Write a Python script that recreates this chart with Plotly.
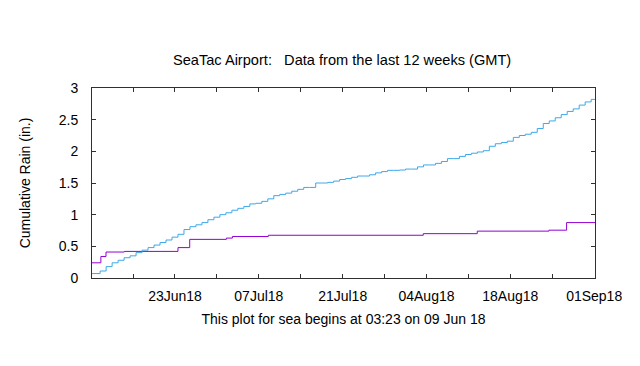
import pandas as pd
import plotly.graph_objects as go

# ---- data ----
period_start = "2018-06-09 03:23"
period_end = "2018-09-01 03:23"

# daily cumulative "normal" rainfall (blue): initial value then one step per day
normal_first_step = "2018-06-10 12:00"
normal_vals = [
    0.07,
    0.11, 0.18, 0.24, 0.28, 0.32, 0.35, 0.40, 0.44, 0.48, 0.52,
    0.56, 0.60, 0.645, 0.69, 0.765, 0.81, 0.84, 0.875, 0.92, 0.96,
    1.00, 1.03, 1.07, 1.10, 1.13, 1.17, 1.18, 1.21, 1.25, 1.30,
    1.32, 1.34, 1.37, 1.40, 1.43, 1.43, 1.50, 1.50, 1.51, 1.53,
    1.555, 1.57, 1.59, 1.61, 1.61, 1.63, 1.66, 1.68, 1.70, 1.70,
    1.705, 1.72, 1.72, 1.755, 1.785, 1.785, 1.81, 1.84, 1.885, 1.885,
    1.92, 1.95, 1.97, 1.99, 2.01, 2.08, 2.12, 2.14, 2.16, 2.22,
    2.25, 2.27, 2.30, 2.36, 2.44, 2.48, 2.53, 2.58, 2.63, 2.67,
    2.73, 2.78, 2.82,
]

# observed cumulative rainfall (purple)
obs_dates = [
    "2018-06-09 03:23", "2018-06-10 15:00", "2018-06-11 11:30", "2018-06-14 13:00",
    "2018-06-23 12:00", "2018-06-25 11:00", "2018-07-01 14:00", "2018-07-02 14:00",
    "2018-07-08 14:00", "2018-08-03 11:00", "2018-08-12 11:30", "2018-08-24 10:30",
    "2018-08-27 09:30", "2018-09-01 03:23",
]
obs_vals = [
    0.24, 0.34, 0.41, 0.42,
    0.48, 0.61, 0.63, 0.655,
    0.675, 0.70, 0.74, 0.755,
    0.875, 0.875,
]

x_tick_vals = ["2018-06-16", "2018-06-23", "2018-06-30", "2018-07-07", "2018-07-14",
               "2018-07-21", "2018-07-28", "2018-08-04", "2018-08-11", "2018-08-18",
               "2018-08-25", "2018-09-01"]
x_tick_text = ["", "23Jun18", "", "07Jul18", "", "21Jul18", "", "04Aug18", "",
               "18Aug18", "", "01Sep18"]
y_tick_vals = [0, 0.5, 1, 1.5, 2, 2.5, 3]
y_tick_text = ["0", "0.5", "1", "1.5", "2", "2.5", "3"]

# ---- build ----
normal_dates = [pd.Timestamp(period_start)] + list(
    pd.date_range(normal_first_step, periods=len(normal_vals) - 1, freq="D")
) + [pd.Timestamp(period_end)]
normal_y = normal_vals + [normal_vals[-1]]

FONT = "Liberation Sans, Arial, sans-serif"

fig = go.Figure()
fig.add_trace(go.Scatter(x=pd.to_datetime(obs_dates), y=obs_vals, mode="lines",
                         line=dict(shape="hv", color="#9400d3", width=1),
                         showlegend=False, hoverinfo="skip"))
fig.add_trace(go.Scatter(x=normal_dates, y=normal_y, mode="lines",
                         line=dict(shape="hv", color="#3ea8e8", width=1),
                         showlegend=False, hoverinfo="skip"))

axis_common = dict(showgrid=False, zeroline=False, showline=True, linecolor="#303030",
                   linewidth=1, mirror="ticks", ticks="inside", ticklen=4,
                   tickcolor="#303030", tickwidth=1,
                   tickfont=dict(family=FONT, size=14, color="#000"))

fig.update_layout(
    width=640, height=366,
    paper_bgcolor="white", plot_bgcolor="white",
    margin=dict(l=84, r=53, t=80, b=96),
    font=dict(family=FONT, size=14, color="#000"),
    title=dict(text="SeaTac Airport:   Data from the last 12 weeks (GMT)",
               x=0.522, xanchor="center", y=1 - 52 / 366, yanchor="middle",
               font=dict(family=FONT, size=14.6, color="#000")),
    xaxis=dict(**axis_common, type="date", range=[period_start, period_end],
               tickmode="array", tickvals=x_tick_vals, ticktext=x_tick_text,
               ticklabelstandoff=5,
               title=dict(text="This plot for sea begins at 03:23 on 09 Jun 18",
                          standoff=11, font=dict(family=FONT, size=14))),
    yaxis=dict(**axis_common, range=[0, 3], tickmode="array",
               tickvals=y_tick_vals, ticktext=y_tick_text, ticklabelstandoff=10,
               title=dict(text="Cumulative Rain (in.)", standoff=24,
                          font=dict(family=FONT, size=14))),
)

fig.write_html("out.html")
